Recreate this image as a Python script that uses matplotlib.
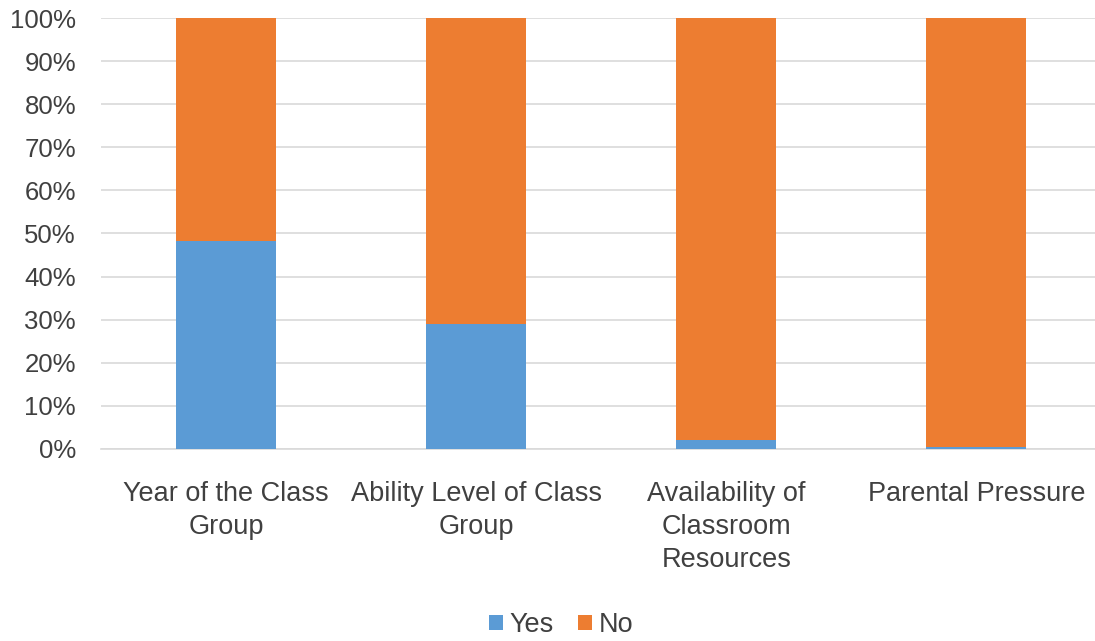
import matplotlib.pyplot as plt
from matplotlib.ticker import PercentFormatter

categories = ["Year of the Class\nGroup", "Ability Level of Class\nGroup",
              "Availability of\nClassroom\nResources", "Parental Pressure"]
yes = [48.3, 28.9, 2.0, 0.5]
no = [100 - v for v in yes]

blue = "#5B9BD5"
orange = "#ED7D31"
text_col = "#404040"

plt.rcParams['font.family'] = ['Liberation Sans', 'DejaVu Sans']

fig = plt.figure(figsize=(10.95, 6.41), dpi=100)
ax = fig.add_axes([101 / 1095, 1 - 449 / 641, 1 - 101 / 1095, (449 - 18) / 641])

x = range(len(categories))
ax.bar(x, yes, width=0.4, color=blue, label="Yes", zorder=3)
ax.bar(x, no, width=0.4, bottom=yes, color=orange, label="No", zorder=3)

ax.set_xlim(-0.5, 3.474)
ax.set_ylim(0, 100)
ax.set_yticks(range(0, 101, 10))
ax.yaxis.set_major_formatter(PercentFormatter(decimals=0))
ax.set_xticks(list(x))
ax.set_xticklabels(categories, linespacing=1.35, fontsize=19.5)
ax.tick_params(axis='both', length=0, colors=text_col)
ax.tick_params(axis='y', pad=18, labelsize=18.5)
ax.tick_params(axis='x', pad=23)
ax.grid(axis='y', color="#D9D9D9", linewidth=1.2, zorder=0)
for s in ["top", "right", "left"]:
    ax.spines[s].set_visible(False)
ax.spines["bottom"].set_color("#D9D9D9")
ax.spines["bottom"].set_linewidth(1.2)

fig.legend(loc="center", bbox_to_anchor=(561 / 1095, 1 - 625 / 641), ncol=2,
           frameon=False, fontsize=19.5, handlelength=0.5, handleheight=0.5,
           handletextpad=0.25, columnspacing=0.9, labelcolor=text_col)

fig.savefig("out.png", dpi=100)
